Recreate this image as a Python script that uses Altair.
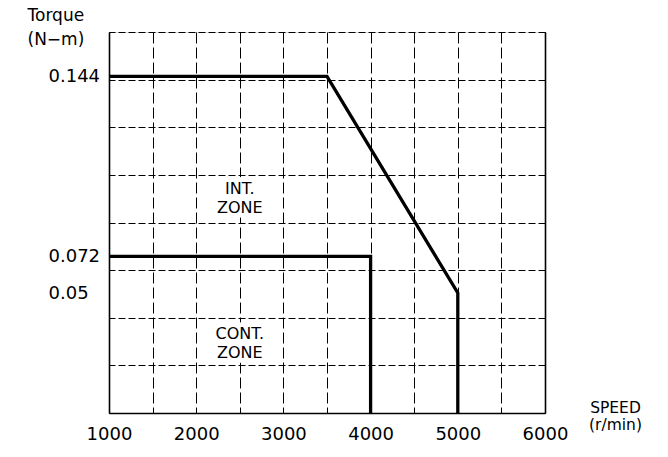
import altair as alt
import pandas as pd

# ---- data ----
title_text = "TORQUE / SPEED CURVES"
int_speed = [1000, 3500, 5000, 5000]
int_torque = [0.144, 0.144, 0.05, 0.0]
cont_speed = [1000, 4000, 4000]
cont_torque = [0.072, 0.072, 0.0]
zone_text = ["INT.\nZONE", "CONT.\nZONE"]
zone_speed = [2500, 2500]
zone_torque = [0.099, 0.033]
x_ticks = [1000, 1500, 2000, 2500, 3000, 3500, 4000, 4500, 5000, 5500, 6000]
y_ticks = [0.05, 0.072, 0.144]
grid_rows = [0, 1, 2, 3, 4, 5, 6, 7, 8]

rows = []
for i, (s, t) in enumerate(zip(int_speed, int_torque)):
    rows.append({"curve": "INT", "order": i, "speed": s, "torque": t})
for i, (s, t) in enumerate(zip(cont_speed, cont_torque)):
    rows.append({"curve": "CONT", "order": i, "speed": s, "torque": t})
df = pd.DataFrame(rows)
zdf = pd.DataFrame({"label": zone_text, "speed": zone_speed, "torque": zone_torque})

FONT = "DejaVu Sans"
W, H = 436, 381

x_scale = alt.Scale(domain=[1000, 6000], nice=False, zero=False)
# the drawing's torque axis is not to scale: piecewise mapping
y_scale = alt.Scale(domain=[0, 0.05, 0.072, 0.144, 0.162],
                    range=[381, 261, 224.4, 44.4, 0], nice=False, zero=False)

x_axis = alt.Axis(values=x_ticks, format="d",
                  labelExpr="datum.value % 1000 === 0 ? datum.label : ''",
                  grid=True, gridDash=[11, 4], gridColor="black", gridWidth=1, gridOpacity=1,
                  ticks=False, tickSize=0, domain=True, domainColor="black", domainWidth=1.6,
                  labelFont=FONT, labelFontSize=18, labelColor="black", labelPadding=12,
                  labelFlush=False, labelOverlap=False, labelBound=False,
                  title=["SPEED", "(r/min)"], titleX=506, titleY=-12.5, titleAlign="center",
                  titleBaseline="top", titleFont=FONT, titleFontSize=15.5, titleFontWeight="normal",
                  titleLineHeight=16.5, titleColor="black")

y_axis = alt.Axis(orient="left", values=y_ticks, labelExpr="datum.value + ''",
                  grid=False, ticks=False, tickSize=0,
                  domain=True, domainColor="black", domainWidth=1.6,
                  labelAlign="left", labelBaseline="middle", labelPadding=61,
                  labelFont=FONT, labelFontSize=18, labelColor="black", labelOverlap=False,
                  title=["Torque", "(N\u2212m)"], titleAngle=0, titleAlign="left", titleBaseline="top",
                  titleX=-82, titleY=-24.5, titleFont=FONT, titleFontSize=17,
                  titleFontWeight="normal", titleLineHeight=24, titleColor="black")

grid_axis = alt.Axis(orient="right", values=grid_rows, grid=True, gridDash=[7, 3], gridColor="black",
                     gridWidth=1, gridOpacity=1, labels=False, ticks=False, domain=True,
                     domainColor="black", domainWidth=1.6, title="")

grid = alt.Chart(df).mark_point(opacity=0).encode(
    y=alt.YDatum(0, type="quantitative", scale=alt.Scale(domain=[0, 8], nice=False, zero=False),
                 axis=grid_axis)
)

lines = alt.Chart(df).mark_line(color="black", strokeWidth=3.3, strokeCap="butt", strokeJoin="miter").encode(
    x=alt.X("speed:Q", scale=x_scale, axis=x_axis),
    y=alt.Y("torque:Q", scale=y_scale, axis=y_axis),
    detail="curve:N",
    order="order:Q",
)

text_enc = dict(
    x=alt.X("speed:Q", scale=x_scale),
    y=alt.Y("torque:Q", scale=y_scale),
    text="label:N",
)
halo = alt.Chart(zdf).mark_text(font=FONT, fontSize=16, lineBreak="\n", lineHeight=19.5,
                                align="center", baseline="middle", color="white",
                                stroke="white", strokeWidth=9).encode(**text_enc)
text = alt.Chart(zdf).mark_text(font=FONT, fontSize=16, lineBreak="\n", lineHeight=19.5,
                                align="center", baseline="middle", color="black").encode(**text_enc)

chart = alt.layer(grid, alt.layer(lines, halo, text)).resolve_scale(y="independent").properties(
    width=W, height=H,
    title=alt.TitleParams(title_text, anchor="middle", dx=15, offset=-3, baseline="alphabetic",
                          font=FONT, fontSize=18, fontWeight="normal", color="black"),
    padding={"left": 101, "top": 24, "right": 115, "bottom": 36},
    autosize=alt.AutoSizeParams(type="none"),
).configure_view(stroke=None).configure(background="white")

chart.save("out.html", embed_options={"renderer": "svg", "actions": False})
